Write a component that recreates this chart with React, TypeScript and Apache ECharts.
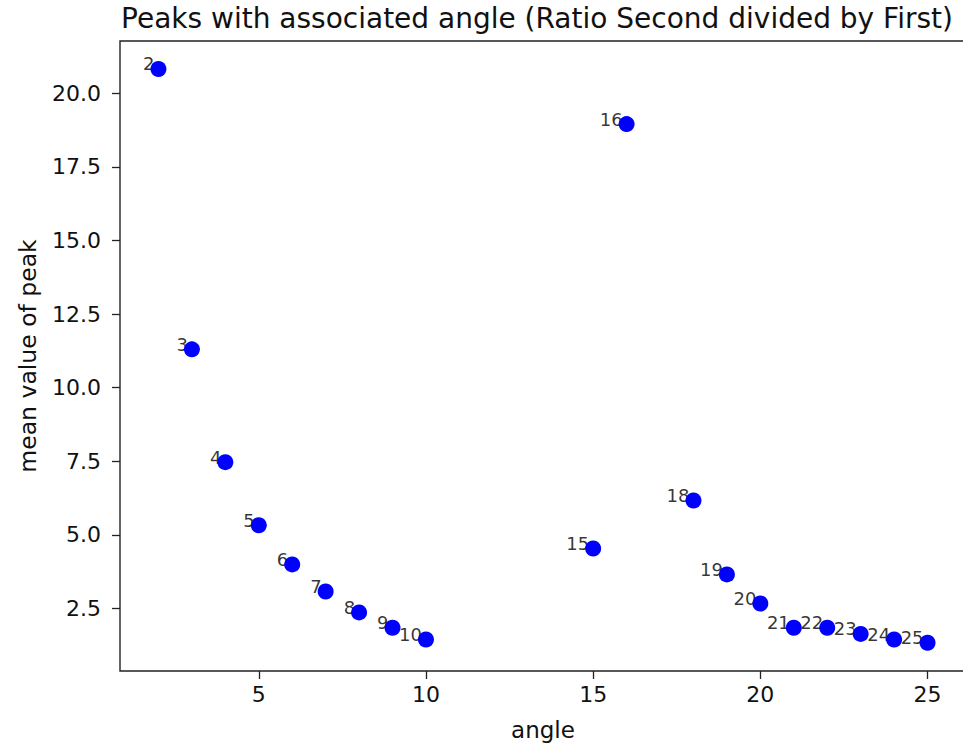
import React, { useEffect, useRef } from "react";
import * as echarts from "echarts";

const angles = [2, 3, 4, 5, 6, 7, 8, 9, 10, 15, 16, 18, 19, 20, 21, 22, 23, 24, 25];
const meanPeaks = [20.82, 11.3, 7.47, 5.33, 4.0, 3.08, 2.37, 1.85, 1.45, 4.54, 18.95, 6.17, 3.66, 2.67, 1.85, 1.85, 1.64, 1.45, 1.34];
const xTicks = [5, 10, 15, 20, 25];
const yTicks = [2.5, 5.0, 7.5, 10.0, 12.5, 15.0, 17.5, 20.0];

const FONT = "DejaVu Sans";

export default function App() {
  const ref = useRef<HTMLDivElement>(null);
  useEffect(() => {
    if (!ref.current) return;
    const chart = echarts.init(ref.current, null, { renderer: "svg" });
    const pts = angles.map((a, i) => [a, meanPeaks[i]]);
    chart.setOption({
      animation: false,
      backgroundColor: "#ffffff",
      graphic: [
        {
          type: "text",
          x: 537,
          y: 4,
          style: {
            text: "Peaks with associated angle (Ratio Second divided by First)",
            fontFamily: FONT,
            fontSize: 28,
            fill: "#111",
            textAlign: "center",
            textVerticalAlign: "top",
          },
        },
      ],
      grid: {
        left: 120,
        top: 41,
        width: 846,
        height: 630,
        show: true,
        borderColor: "#222",
        borderWidth: 1.4,
        backgroundColor: "transparent",
        outerBoundsMode: "none",
        containLabel: false,
      },
      xAxis: {
        type: "value",
        min: 0.85,
        max: 26.15,
        name: "angle",
        nameLocation: "middle",
        nameGap: 47,
        nameTextStyle: { fontFamily: FONT, fontSize: 23, color: "#111" },
        splitLine: { show: false },
        axisLine: { show: false },
        axisTick: { show: true, customValues: xTicks, length: 8, lineStyle: { color: "#222", width: 1.3 } },
        axisLabel: {
          customValues: xTicks,
          fontFamily: FONT,
          fontSize: 22,
          color: "#111",
          margin: 12,
        },
      },
      yAxis: {
        type: "value",
        min: 0.38,
        max: 21.77,
        name: "mean value of peak",
        nameLocation: "middle",
        nameGap: 80,
        nameRotate: 90,
        nameTextStyle: { fontFamily: FONT, fontSize: 23.5, color: "#111" },
        splitLine: { show: false },
        axisLine: { show: false },
        axisTick: { show: true, customValues: yTicks, length: 8, lineStyle: { color: "#222", width: 1.3 } },
        axisLabel: {
          customValues: yTicks,
          fontFamily: FONT,
          fontSize: 22,
          color: "#111",
          margin: 19,
          formatter: (v: number) => v.toFixed(1),
        },
      },
      series: [
        {
          type: "scatter",
          z: 2,
          data: pts,
          symbolSize: 16,
          itemStyle: { color: "rgba(0,0,0,0)" },
          label: {
            show: true,
            position: [4, 12],
            align: "right",
            verticalAlign: "bottom",
            formatter: (p: any) => String(p.value[0]),
            fontFamily: FONT,
            fontSize: 18,
            color: "#000",
          },
          silent: true,
        },
        {
          type: "scatter",
          z: 3,
          data: pts,
          symbolSize: 16,
          itemStyle: { color: "#0000ff", opacity: 1 },
        },
      ],
    });
    return () => chart.dispose();
  }, []);
  return (
    <div
      ref={ref}
      style={{ position: "absolute", left: 0, top: 0, width: 963, height: 747 }}
    />
  );
}
